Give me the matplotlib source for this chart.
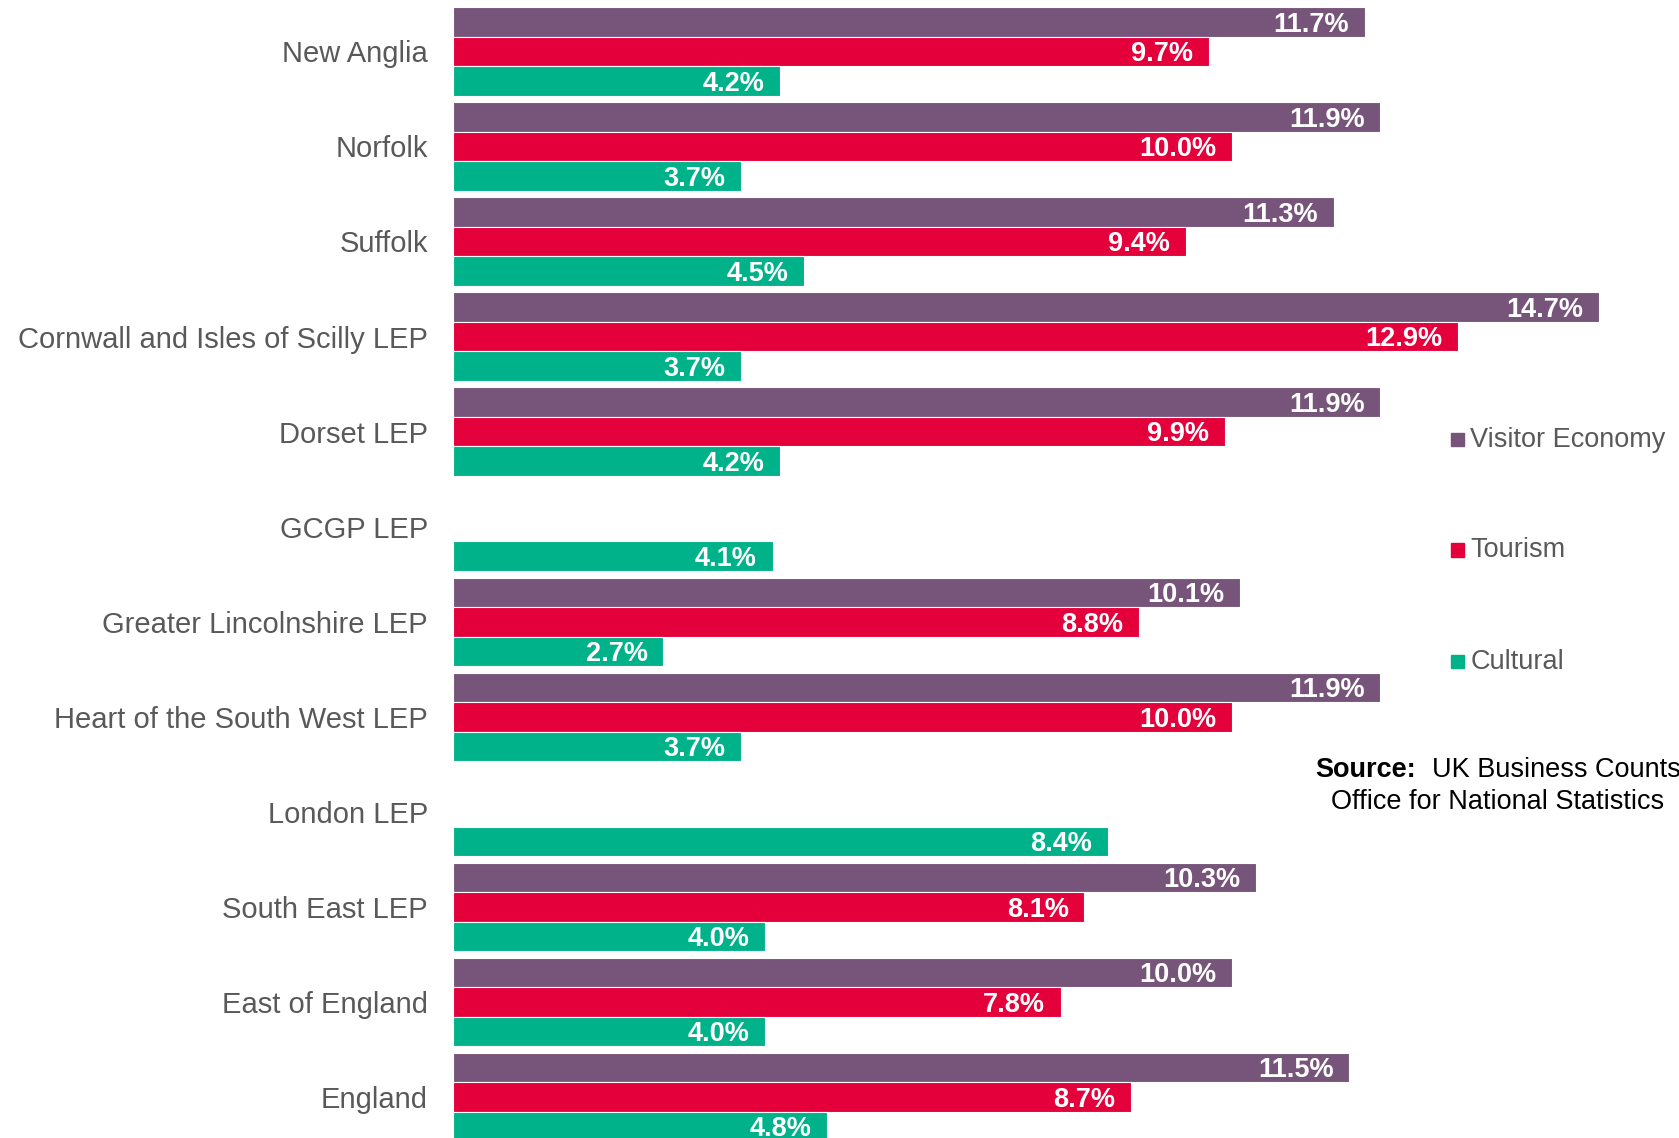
import matplotlib.pyplot as plt
import numpy as np

plt.rcParams['font.family'] = ['Liberation Sans', 'DejaVu Sans']

# chart values
regions = ['New Anglia', 'Norfolk', 'Suffolk', 'Cornwall and Isles of Scilly LEP',
           'Dorset LEP', 'GCGP LEP', 'Greater Lincolnshire LEP',
           'Heart of the South West LEP', 'London LEP', 'South East LEP',
           'East of England', 'England']
visitor = [11.7, 11.9, 11.3, 14.7, 11.9, np.nan, 10.1, 11.9, np.nan, 10.3, 10.0, 11.5]
tourism = [9.7, 10.0, 9.4, 12.9, 9.9, np.nan, 8.8, 10.0, np.nan, 8.1, 7.8, 8.7]
cultural = [4.2, 3.7, 4.5, 3.7, 4.2, 4.1, 2.7, 3.7, 8.4, 4.0, 4.0, 4.8]

series = [('Visitor Economy', visitor, '#77547A'),
          ('Tourism', tourism, '#E4003B'),
          ('Cultural', cultural, '#00B289')]

fig = plt.figure(figsize=(16.79, 11.38), dpi=100)
ax = fig.add_axes([0.2698, 0, 0.7302, 1])

y = np.arange(len(regions))
h = 0.31
for k, (name, vals, col) in enumerate(series):
    pos = y + (k - 1) * h
    vals = np.array(vals, dtype=float)
    ok = ~np.isnan(vals)
    ax.barh(pos[ok], vals[ok], height=h, color=col, edgecolor='white', linewidth=0.8)
    for p, v in zip(pos[ok], vals[ok]):
        ax.text(v - 0.2, p + 0.03, f'{v:.1f}%', ha='right', va='center',
                color='white', fontsize=19.5, fontweight='bold')

ax.set_xlim(0, 15.73)
ax.set_ylim(11.43, -0.54)
ax.set_yticks(y)
ax.set_yticklabels(regions, fontsize=21, color='#595959')
ax.tick_params(axis='y', length=0, pad=18)
ax.set_xticks([])
for s in ax.spines.values():
    s.set_visible(False)

# legend, drawn by hand to match the spread-out layout
leg_y = [411, 514, 618]
for (name, vals, col), ly in zip(series, leg_y):
    fy = 1 - ly / 1063
    fig.patches.append(plt.Rectangle((1355 / 1568, fy - 0.0055), 0.0078, 0.0115,
                                     transform=fig.transFigure, color=col))
    fig.text(1373 / 1568, fy, name, fontsize=19.5, color='#595959', va='center')

fig.text(1228 / 1568, 1 - 719 / 1063, 'Source:', fontsize=19.5, fontweight='bold',
         color='black', va='center')
fig.text(1337 / 1568, 1 - 719 / 1063, 'UK Business Counts', fontsize=19.5,
         color='black', va='center')
fig.text(1243 / 1568, 1 - 749 / 1063, 'Office for National Statistics', fontsize=19.5,
         color='black', va='center')

fig.savefig('out.png', dpi=100)
